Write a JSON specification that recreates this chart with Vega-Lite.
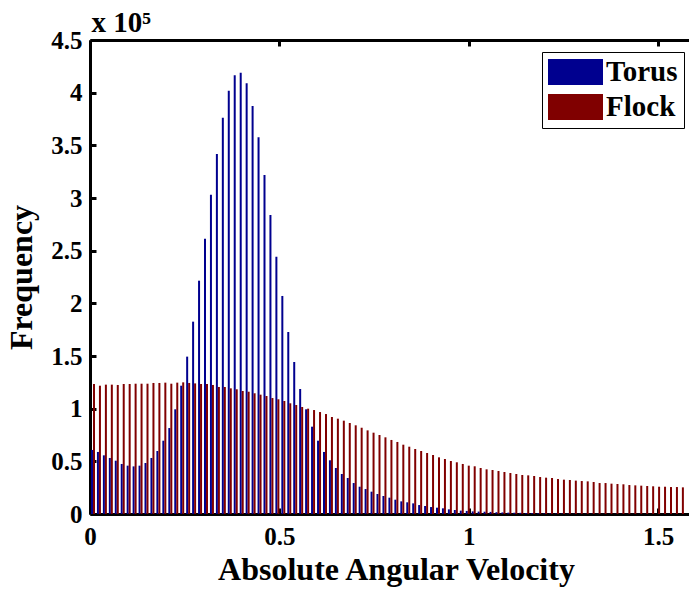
{
"$schema": "https://vega.github.io/schema/vega-lite/v6.json",
"width": 599,
"height": 474,
"autosize": {"type": "none"},
"padding": {"left": 90, "top": 40, "right": 0, "bottom": 76},
"background": "white",
"config": {
  "view": {"stroke": null},
  "font": "Liberation Serif",
  "axis": {"grid": false, "domainColor": "black", "domainWidth": 3, "tickColor": "black", "tickWidth": 3, "tickSize": -6, "labelFont": "Liberation Serif", "labelFontWeight": "bold", "labelFontSize": 25, "labelColor": "black", "titleFont": "Liberation Serif", "titleFontWeight": "bold", "titleFontSize": 32, "titleColor": "black", "labelFlush": false, "labelOverlap": false}
},
"datasets": {
"torus": [
{"v":0.0079,"n":60800},{"v":0.0236,"n":58900},{"v":0.0393,"n":55700},{"v":0.0550,"n":53200},{"v":0.0707,"n":50600},
{"v":0.0864,"n":47500},{"v":0.1021,"n":45900},{"v":0.1178,"n":45200},{"v":0.1335,"n":45900},{"v":0.1492,"n":48400},
{"v":0.1649,"n":53200},{"v":0.1806,"n":59800},{"v":0.1963,"n":69600},{"v":0.2121,"n":81600},{"v":0.2278,"n":99400},
{"v":0.2435,"n":121800},{"v":0.2592,"n":149400},{"v":0.2749,"n":182600},{"v":0.2906,"n":221500},{"v":0.3063,"n":261400},
{"v":0.3220,"n":303100},{"v":0.3377,"n":341800},{"v":0.3534,"n":376300},{"v":0.3691,"n":401900},{"v":0.3848,"n":416500},
{"v":0.4006,"n":419000},{"v":0.4163,"n":408900},{"v":0.4320,"n":387400},{"v":0.4477,"n":357600},{"v":0.4634,"n":321800},
{"v":0.4791,"n":283900},{"v":0.4948,"n":244300},{"v":0.5105,"n":207000},{"v":0.5262,"n":172800},{"v":0.5419,"n":144300},
{"v":0.5576,"n":118700},{"v":0.5733,"n":99400},{"v":0.5890,"n":82900},{"v":0.6048,"n":69600},{"v":0.6205,"n":58900},
{"v":0.6362,"n":51000},{"v":0.6519,"n":43700},{"v":0.6676,"n":38000},{"v":0.6833,"n":34200},{"v":0.6990,"n":29400},
{"v":0.7147,"n":25900},{"v":0.7304,"n":23700},{"v":0.7461,"n":21200},{"v":0.7618,"n":19000},{"v":0.7775,"n":17100},
{"v":0.7933,"n":15500},{"v":0.8090,"n":13600},{"v":0.8247,"n":12000},{"v":0.8404,"n":11100},{"v":0.8561,"n":10100},
{"v":0.8718,"n":8500},{"v":0.8875,"n":7600},{"v":0.9032,"n":6600},{"v":0.9189,"n":6000},{"v":0.9346,"n":5400},
{"v":0.9503,"n":4400},{"v":0.9660,"n":3800},{"v":0.9817,"n":3200},{"v":0.9975,"n":2900},{"v":1.0132,"n":2500},
{"v":1.0289,"n":2300},{"v":1.0446,"n":2200},{"v":1.0603,"n":2000},{"v":1.0760,"n":1700},{"v":1.0917,"n":1500},
{"v":1.1074,"n":1300},{"v":1.1231,"n":1200},{"v":1.1388,"n":1100},{"v":1.1545,"n":900},{"v":1.1702,"n":800},
{"v":1.1860,"n":700},{"v":1.2017,"n":600},{"v":1.2174,"n":500},{"v":1.2331,"n":450},{"v":1.2488,"n":400},
{"v":1.2645,"n":350},{"v":1.2802,"n":300},{"v":1.2959,"n":280},{"v":1.3116,"n":260},{"v":1.3273,"n":240},
{"v":1.3430,"n":220},{"v":1.3587,"n":200},{"v":1.3744,"n":190},{"v":1.3902,"n":180},{"v":1.4059,"n":170},
{"v":1.4216,"n":160},{"v":1.4373,"n":150},{"v":1.4530,"n":140},{"v":1.4687,"n":130},{"v":1.4844,"n":120},
{"v":1.5001,"n":110},{"v":1.5158,"n":100},{"v":1.5315,"n":100},{"v":1.5472,"n":90},{"v":1.5629,"n":90}
],
"flock": [
{"v":0.0079,"n":123400},{"v":0.0236,"n":121800},{"v":0.0393,"n":122800},{"v":0.0550,"n":122800},{"v":0.0707,"n":122500},
{"v":0.0864,"n":123400},{"v":0.1021,"n":123400},{"v":0.1178,"n":123700},{"v":0.1335,"n":123700},{"v":0.1492,"n":123700},
{"v":0.1649,"n":124400},{"v":0.1806,"n":124400},{"v":0.1963,"n":124700},{"v":0.2121,"n":123700},{"v":0.2278,"n":124700},
{"v":0.2435,"n":125000},{"v":0.2592,"n":124400},{"v":0.2749,"n":124000},{"v":0.2906,"n":123400},{"v":0.3063,"n":123400},
{"v":0.3220,"n":122500},{"v":0.3377,"n":120600},{"v":0.3534,"n":120600},{"v":0.3691,"n":119300},{"v":0.3848,"n":118400},
{"v":0.4006,"n":116800},{"v":0.4163,"n":116100},{"v":0.4320,"n":114600},{"v":0.4477,"n":113300},{"v":0.4634,"n":112000},
{"v":0.4791,"n":110100},{"v":0.4948,"n":108900},{"v":0.5105,"n":107300},{"v":0.5262,"n":105100},{"v":0.5419,"n":103500},
{"v":0.5576,"n":101600},{"v":0.5733,"n":100000},{"v":0.5890,"n":98700},{"v":0.6048,"n":96800},{"v":0.6205,"n":94900},
{"v":0.6362,"n":92100},{"v":0.6519,"n":90500},{"v":0.6676,"n":88600},{"v":0.6833,"n":86400},{"v":0.6990,"n":84200},
{"v":0.7147,"n":81900},{"v":0.7304,"n":79400},{"v":0.7461,"n":77200},{"v":0.7618,"n":75000},{"v":0.7775,"n":72800},
{"v":0.7933,"n":70300},{"v":0.8090,"n":68400},{"v":0.8247,"n":65800},{"v":0.8404,"n":63900},{"v":0.8561,"n":61700},
{"v":0.8718,"n":59800},{"v":0.8875,"n":57900},{"v":0.9032,"n":56000},{"v":0.9189,"n":53800},{"v":0.9346,"n":52200},
{"v":0.9503,"n":50300},{"v":0.9660,"n":49100},{"v":0.9817,"n":47500},{"v":0.9975,"n":45900},{"v":1.0132,"n":45300},
{"v":1.0289,"n":43700},{"v":1.0446,"n":42400},{"v":1.0603,"n":41800},{"v":1.0760,"n":40800},{"v":1.0917,"n":39900},
{"v":1.1074,"n":38900},{"v":1.1231,"n":38000},{"v":1.1388,"n":37000},{"v":1.1545,"n":36700},{"v":1.1702,"n":36100},
{"v":1.1860,"n":35100},{"v":1.2017,"n":34500},{"v":1.2174,"n":34200},{"v":1.2331,"n":33200},{"v":1.2488,"n":32600},
{"v":1.2645,"n":32300},{"v":1.2802,"n":31700},{"v":1.2959,"n":31300},{"v":1.3116,"n":31000},{"v":1.3273,"n":30400},
{"v":1.3430,"n":29400},{"v":1.3587,"n":29400},{"v":1.3744,"n":28800},{"v":1.3902,"n":28500},{"v":1.4059,"n":28200},
{"v":1.4216,"n":27500},{"v":1.4373,"n":27200},{"v":1.4530,"n":26900},{"v":1.4687,"n":26600},{"v":1.4844,"n":26300},
{"v":1.5001,"n":25900},{"v":1.5158,"n":25900},{"v":1.5315,"n":25600},{"v":1.5472,"n":25600},{"v":1.5629,"n":25300}
]
},
"layer": [
{
  "data": {"name": "torus"},
  "mark": {"type": "bar", "width": 2, "xOffset": -1},
  "encoding": {
    "x": {"field": "v", "type": "quantitative", "scale": {"domain": [0, 1.5817], "nice": false, "zero": false, "padding": 0},
      "axis": {"orient": "bottom", "values": [0, 0.5, 1, 1.5], "title": "Absolute Angular Velocity", "labelPadding": 16, "titlePadding": 5, "titleX": 306, "labelExpr": "'' + datum.value"}},
    "y": {"field": "n", "type": "quantitative", "scale": {"domain": [0, 450000], "nice": false, "padding": 0},
      "axis": {"values": [0, 50000, 100000, 150000, 200000, 250000, 300000, 350000, 400000, 450000], "labelExpr": "'' + (datum.value / 100000)", "title": "Frequency", "labelPadding": 14, "titlePadding": 12}},
    "color": {"datum": "Torus", "type": "nominal",
      "scale": {"domain": ["Torus", "Flock"], "range": ["#00008F", "#800000"]},
      "legend": {"title": null, "orient": "none", "legendX": 452, "legendY": 12, "strokeColor": "black", "fillColor": "white", "padding": 6,
        "symbolType": "M-1,-0.473H1V0.473H-1Z", "symbolSize": 3025, "symbolStrokeWidth": 0, "symbolOpacity": 1, "clipHeight": 28,
        "labelFont": "Liberation Serif", "labelFontWeight": "bold", "labelFontSize": 29, "labelColor": "black", "labelOffset": 3, "rowPadding": 6}}
  }
},
{
  "data": {"name": "flock"},
  "mark": {"type": "bar", "width": 2, "xOffset": 1},
  "encoding": {
    "x": {"field": "v", "type": "quantitative", "axis": {"orient": "top", "values": [0, 0.5, 1, 1.5], "labels": false, "title": "x 10\u2075", "titleAnchor": "start", "titleAlign": "left", "titleBaseline": "alphabetic", "titleX": 1, "titleY": -9, "titleFontSize": 29, "titleAngle": 0}},
    "y": {"field": "n", "type": "quantitative"},
    "color": {"datum": "Flock", "type": "nominal"}
  }
}
],
"resolve": {"axis": {"x": "independent"}}
}
